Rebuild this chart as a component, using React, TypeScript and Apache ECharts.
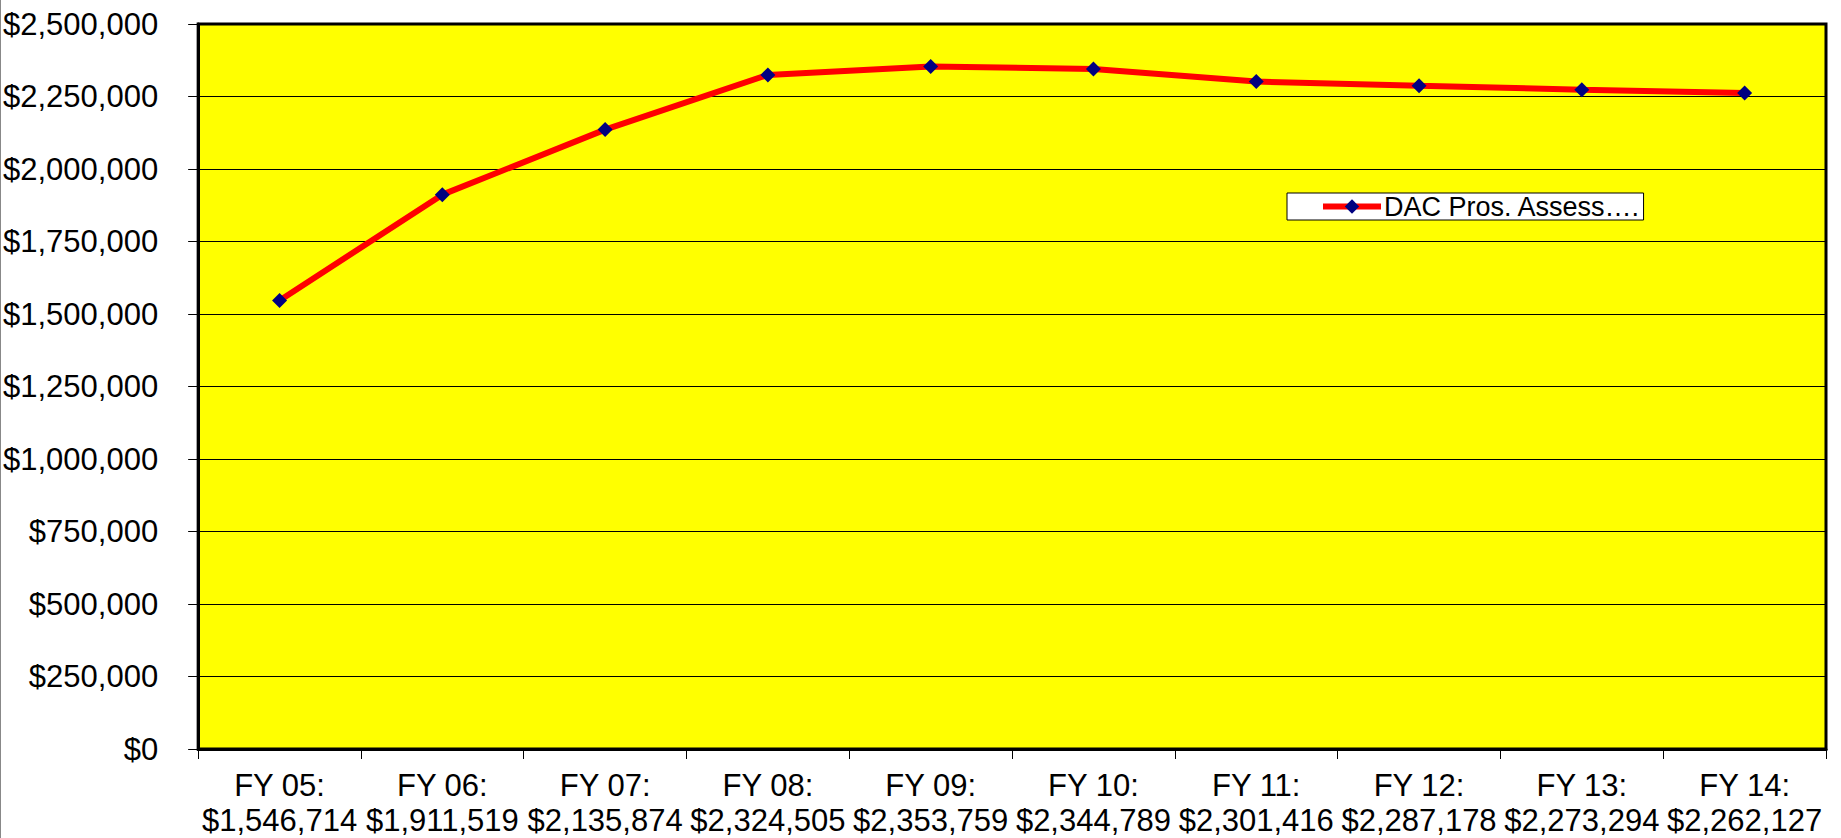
import React, { useEffect, useRef } from "react";
import * as echarts from "echarts";

const categories = ["FY 05:", "FY 06:", "FY 07:", "FY 08:", "FY 09:", "FY 10:", "FY 11:", "FY 12:", "FY 13:", "FY 14:"];
const values = [1546714, 1911519, 2135874, 2324505, 2353759, 2344789, 2301416, 2287178, 2273294, 2262127];
const seriesName = "DAC Pros. Assess….";

const money = (v: number) => "$" + v.toLocaleString("en-US");

export default function App() {
  const ref = useRef<HTMLDivElement>(null);
  useEffect(() => {
    document.body.style.margin = "0";
    const chart = echarts.init(ref.current!, null, { renderer: "svg" });
    const font = "'Liberation Sans', Arial, sans-serif";
    chart.setOption({
      animation: false,
      backgroundColor: "#ffffff",
      grid: { left: 197, right: 15, top: 24, bottom: 89, show: true, backgroundColor: "#ffff00", borderColor: "#000", borderWidth: 3 },
      legend: {
        left: 1287,
        top: 193,
        orient: "horizontal",
        backgroundColor: "#ffffff",
        borderColor: "#000",
        borderWidth: 1,
        borderRadius: 0,
        padding: [0, 3, 0, 33],
        itemWidth: 58,
        itemHeight: 18,
        itemGap: 4,
        lineStyle: { width: 6, color: "#ff0000" },
        textStyle: { fontFamily: font, fontSize: 27, color: "#000", lineHeight: 25, padding: [0, 0, 0, -2] },
        data: [{ name: seriesName }],
      },
      xAxis: {
        type: "category",
        data: categories.map((c, i) => c + "\n" + money(values[i])),
        boundaryGap: true,
        axisLine: { show: true, lineStyle: { color: "#000", width: 3 } },
        axisTick: { show: true, length: 10, lineStyle: { color: "#000", width: 1 } },
        axisLabel: { interval: 0, fontFamily: font, fontSize: 31, color: "#000", lineHeight: 35, margin: 19 },
        splitLine: { show: false },
      },
      yAxis: {
        type: "value",
        min: 0,
        max: 2500000,
        interval: 250000,
        axisLine: { show: true, lineStyle: { color: "#000", width: 3 } },
        axisTick: { show: true, length: 10, lineStyle: { color: "#000", width: 1 } },
        axisLabel: { fontFamily: font, fontSize: 31, color: "#000", margin: 40, formatter: (v: number) => money(v) },
        splitLine: { show: true, lineStyle: { color: "#000", width: 1 } },
      },
      series: [
        {
          name: seriesName,
          type: "line",
          data: values,
          lineStyle: { color: "#ff0000", width: 6 },
          itemStyle: { color: "#000080" },
          symbol: "diamond",
          symbolSize: 15,
          showSymbol: true,
        },
      ],
      graphic: [
        { type: "line", shape: { x1: 0.5, y1: 0, x2: 0.5, y2: 838 }, style: { stroke: "#888", lineWidth: 1 } },
      ],
    });
    return () => chart.dispose();
  }, []);
  return <div ref={ref} style={{ width: 1841, height: 838 }} />;
}
